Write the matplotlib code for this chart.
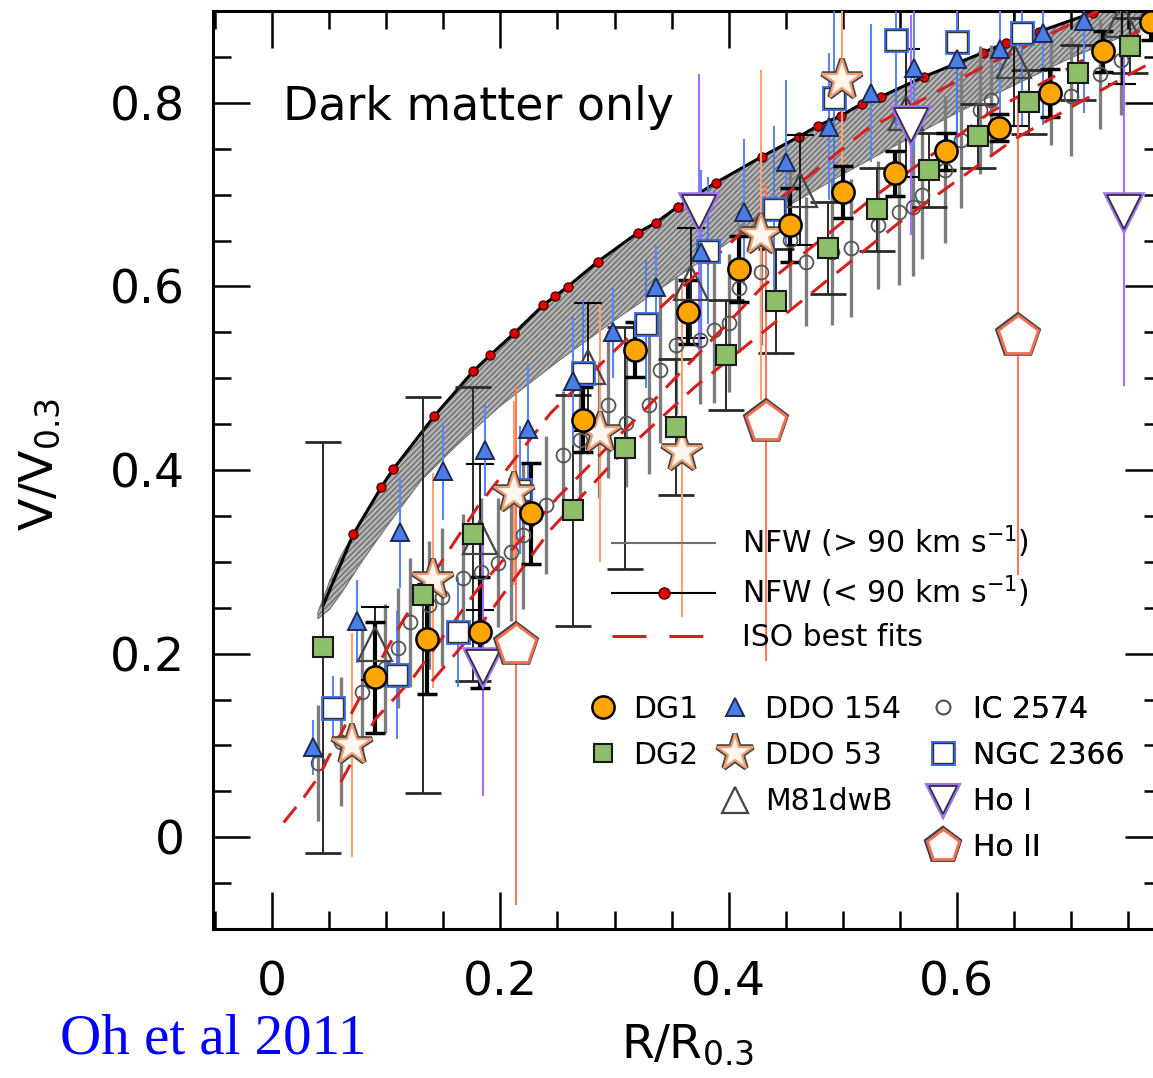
import matplotlib.pyplot as plt
from matplotlib.lines import Line2D
from matplotlib.ticker import MultipleLocator, FuncFormatter

plt.rcParams['font.family'] = ['DejaVu Sans']
plt.rcParams['mathtext.default'] = 'regular'

# NFW (< 90 km/s) model curve, red dots on the model points
nfw_x = [0.0447, 0.0711, 0.0956, 0.1061, 0.1421, 0.1763, 0.1912, 0.2123, 0.2377, 0.2482,
         0.2588, 0.2851, 0.3202, 0.3360, 0.3553, 0.3886, 0.4289, 0.4614, 0.4781, 0.4982,
         0.5167, 0.5333, 0.5711, 0.6228, 0.6430, 0.6719, 0.7193]
nfw_y = [0.2529, 0.3302, 0.3815, 0.4011, 0.4589, 0.5079, 0.5253, 0.5493, 0.5798, 0.5896,
         0.5995, 0.6267, 0.6583, 0.6692, 0.6866, 0.7128, 0.7411, 0.7629, 0.7749, 0.7858,
         0.7989, 0.8065, 0.8283, 0.8545, 0.8654, 0.8774, 0.8981]

# grey band of NFW (> 90 km/s) curves
band_x = [0.040, 0.050, 0.060, 0.080, 0.100, 0.130, 0.160, 0.200, 0.250, 0.300,
          0.350, 0.400, 0.450, 0.500, 0.550, 0.600, 0.650, 0.700, 0.780]
band_hi = [0.245, 0.278, 0.306, 0.350, 0.390, 0.440, 0.485, 0.535, 0.591, 0.640,
           0.682, 0.721, 0.755, 0.787, 0.816, 0.843, 0.868, 0.890, 0.925]
band_lo = [0.238, 0.248, 0.265, 0.303, 0.338, 0.388, 0.425, 0.470, 0.518, 0.563,
           0.606, 0.648, 0.686, 0.722, 0.756, 0.789, 0.819, 0.849, 0.890]

# ISO best fits
iso1_x = [0.010, 0.028, 0.040, 0.080, 0.115, 0.180, 0.244, 0.300, 0.360, 0.434, 0.520, 0.620, 0.720, 0.780]
iso1_y = [0.016, 0.044, 0.065, 0.160, 0.237, 0.360, 0.462, 0.530, 0.600, 0.684, 0.770, 0.837, 0.898, 0.930]
iso2_x = [0.060, 0.090, 0.123, 0.180, 0.250, 0.330, 0.430, 0.530, 0.630, 0.730, 0.780]
iso2_y = [0.060, 0.128, 0.173, 0.270, 0.370, 0.470, 0.600, 0.700, 0.790, 0.860, 0.890]
iso3_x = [0.140, 0.186, 0.244, 0.300, 0.370, 0.450, 0.550, 0.650, 0.750, 0.780]
iso3_y = [0.170, 0.237, 0.335, 0.410, 0.490, 0.570, 0.670, 0.760, 0.830, 0.850]

# galaxies
dg1_x = [0.090, 0.136, 0.182, 0.227, 0.272, 0.318, 0.364, 0.409, 0.454, 0.500, 0.546, 0.591, 0.637, 0.682, 0.728, 0.770]
dg1_y = [0.174, 0.216, 0.223, 0.353, 0.455, 0.531, 0.572, 0.619, 0.667, 0.703, 0.723, 0.747, 0.773, 0.811, 0.856, 0.888]
dg1_e = [0.060, 0.060, 0.060, 0.055, 0.035, 0.030, 0.035, 0.036, 0.040, 0.028, 0.024, 0.020, 0.015, 0.026, 0.022, 0.020]

dg2_x = [0.044, 0.1325, 0.1763, 0.264, 0.3096, 0.3535, 0.3974, 0.4412, 0.4868, 0.5298, 0.5754, 0.6184, 0.6632, 0.7061, 0.7518]
dg2_y = [0.207, 0.264, 0.330, 0.356, 0.424, 0.447, 0.525, 0.584, 0.642, 0.684, 0.727, 0.764, 0.801, 0.833, 0.862]
dg2_e = [0.224, 0.216, 0.160, 0.126, 0.132, 0.074, 0.060, 0.057, 0.050, 0.045, 0.040, 0.035, 0.035, 0.030, 0.030]

ddo154_x = [0.036, 0.0746, 0.1123, 0.150, 0.1868, 0.2246, 0.2632, 0.2991, 0.336, 0.3754, 0.4132, 0.450,
            0.4877, 0.5246, 0.5623, 0.600, 0.6377, 0.6754, 0.7114]
ddo154_y = [0.098, 0.235, 0.332, 0.399, 0.422, 0.445, 0.497, 0.550, 0.599, 0.637, 0.681, 0.735,
            0.774, 0.811, 0.838, 0.848, 0.859, 0.876, 0.889]
ddo154_e = [0.030, 0.045, 0.060, 0.053, 0.050, 0.070, 0.070, 0.050, 0.045, 0.090, 0.080, 0.090,
            0.080, 0.075, 0.090, 0.100, 0.100, 0.100, 0.100]

ddo53_x = [0.0702, 0.1412, 0.2123, 0.2877, 0.3588, 0.4281, 0.4991]
ddo53_y = [0.100, 0.280, 0.375, 0.440, 0.420, 0.656, 0.825]
ddo53_e = [0.122, 0.117, 0.100, 0.140, 0.180, 0.180, 0.150]

m81_x = [0.0904, 0.1825, 0.2772, 0.3675, 0.4623, 0.5553, 0.650, 0.7447]
m81_y = [0.211, 0.327, 0.512, 0.604, 0.705, 0.789, 0.845, 0.890]
m81_e = [0.040, 0.080, 0.070, 0.060, 0.060, 0.070, 0.070, 0.070]

ic_x = [0.040, 0.060, 0.079, 0.099, 0.110, 0.121, 0.137, 0.149, 0.167, 0.183, 0.198, 0.209, 0.220, 0.240,
        0.255, 0.270, 0.286, 0.294, 0.310, 0.330, 0.340, 0.354, 0.375, 0.387, 0.400, 0.409, 0.428, 0.454,
        0.468, 0.491, 0.507, 0.531, 0.549, 0.562, 0.570, 0.590, 0.604, 0.620, 0.630, 0.683, 0.700, 0.726, 0.744]
ic_y = [0.081, 0.104, 0.158, 0.184, 0.206, 0.234, 0.253, 0.262, 0.282, 0.289, 0.299, 0.311, 0.329, 0.362,
        0.416, 0.433, 0.444, 0.471, 0.451, 0.471, 0.509, 0.536, 0.542, 0.553, 0.560, 0.598, 0.616, 0.651,
        0.627, 0.638, 0.642, 0.667, 0.681, 0.686, 0.700, 0.727, 0.760, 0.792, 0.803, 0.814, 0.807, 0.831, 0.847]
ic_e = [0.063, 0.070, 0.070, 0.070, 0.065, 0.070, 0.070, 0.075, 0.070, 0.080, 0.070, 0.075, 0.080, 0.075,
        0.070, 0.080, 0.075, 0.080, 0.070, 0.075, 0.080, 0.075, 0.070, 0.080, 0.075, 0.070, 0.080, 0.075,
        0.070, 0.080, 0.075, 0.070, 0.080, 0.075, 0.070, 0.080, 0.075, 0.070, 0.060, 0.060, 0.065, 0.060, 0.060]

ngc_x = [0.0535, 0.1096, 0.1632, 0.2175, 0.2728, 0.3272, 0.3816, 0.4395, 0.4921, 0.5465, 0.600, 0.657]
ngc_y = [0.1406, 0.1766, 0.2235, 0.3782, 0.5057, 0.5591, 0.6387, 0.6845, 0.8054, 0.8687, 0.8665, 0.8763]
ngc_e = [0.035, 0.070, 0.060, 0.070, 0.080, 0.070, 0.080, 0.090, 0.100, 0.100, 0.100, 0.100]

hoi_x = [0.185, 0.3737, 0.5596, 0.7465]
hoi_y = [0.185, 0.681, 0.776, 0.681]
hoi_e = [0.140, 0.150, 0.120, 0.190]

hoii_x = [0.214, 0.433, 0.654]
hoii_y = [0.209, 0.452, 0.546]
hoii_e = [0.283, 0.260, 0.260]

fig = plt.figure(figsize=(11.53, 10.78), dpi=100)
ax = fig.add_axes([213 / 1153, 149 / 1078, 949 / 1153, 918 / 1078])
ax.set_xlim(-0.052, 0.78)
ax.set_ylim(-0.1, 0.9)

# model curves
ax.fill_between(band_x, band_lo, band_hi, facecolor='#b4b4b4', edgecolor='#6e6e6e',
                hatch='//////', linewidth=0.8, zorder=1)
ax.plot(nfw_x, nfw_y, color='black', lw=2.2, zorder=2)
ax.plot(nfw_x[1:], nfw_y[1:], ls='none', marker='o', ms=6.5, mfc='#e00000', mec='#550000', mew=1, zorder=2)
iso_dash = (0, (6.5, 4))
for xs, ys in [(iso1_x, iso1_y), (iso2_x, iso2_y), (iso3_x, iso3_y)]:
    ax.plot(xs, ys, color='#d42020', lw=2.2, ls=iso_dash, zorder=6)

# error bars
ax.errorbar(ic_x, ic_y, yerr=ic_e, fmt='none', ecolor='#7d7d7d', elinewidth=2.4, zorder=3)
ax.errorbar(dg2_x, dg2_y, yerr=dg2_e, fmt='none', ecolor='#2a2a2a', elinewidth=1.4,
            capsize=13, capthick=2, zorder=3)
ax.errorbar(m81_x, m81_y, yerr=m81_e, fmt='none', ecolor='black', elinewidth=1.2,
            capsize=10, capthick=1.5, zorder=3)
ax.errorbar(ddo154_x, ddo154_y, yerr=ddo154_e, fmt='none', ecolor='#5a86f0', elinewidth=1.5, zorder=3)
ax.errorbar(ngc_x, ngc_y, yerr=ngc_e, fmt='none', ecolor='#4a7af0', elinewidth=1.3, zorder=3)
ax.errorbar(ddo53_x, ddo53_y, yerr=ddo53_e, fmt='none', ecolor='#ffa070', elinewidth=1.5, zorder=3)
ax.errorbar(hoi_x, hoi_y, yerr=hoi_e, fmt='none', ecolor='#a070ff', elinewidth=1.5, zorder=3)
ax.errorbar(hoii_x, hoii_y, yerr=hoii_e, fmt='none', ecolor='#ff7a5a', elinewidth=1.5, zorder=3)
ax.errorbar(dg1_x, dg1_y, yerr=dg1_e, fmt='none', ecolor='black', elinewidth=3,
            capsize=7, capthick=2.5, zorder=4)

# markers; double outlines are drawn as two layers
styles = {
    'DG1': [dict(marker='o', ms=16, mfc='#ffa500', mec='black', mew=1.8)],
    'DG2': [dict(marker='s', ms=14, mfc='#8dbf6b', mec='#1a1a1a', mew=1.5)],
    'DDO 154': [dict(marker='^', ms=13, mfc='#4a7ee6', mec='#1c2a55', mew=1.4)],
    'DDO 53': [dict(marker='*', ms=30, mfc='white', mec='#444444', mew=4),
               dict(marker='*', ms=30, mfc='#fff6f0', mec='#f0a070', mew=1.6)],
    'M81dwB': [dict(marker='^', ms=24, mfc='none', mec='#444444', mew=1.6)],
    'IC 2574': [dict(marker='o', ms=10, mfc='none', mec='#555555', mew=1.3)],
    'NGC 2366': [dict(marker='s', ms=14, mfc='white', mec='#3b6ff0', mew=3.5),
                 dict(marker='s', ms=14, mfc='white', mec='#333333', mew=1.0)],
    'Ho I': [dict(marker='v', ms=24, mfc='white', mec='#a070ff', mew=4),
             dict(marker='v', ms=24, mfc='white', mec='#333333', mew=1.3)],
    'Ho II': [dict(marker='p', ms=30, mfc='white', mec='#444444', mew=4),
              dict(marker='p', ms=30, mfc='white', mec='#f07050', mew=2)],
}
# legend keys are drawn a little smaller than the points
key_size = {'DDO 53': 27, 'M81dwB': 19, 'Ho I': 20, 'Ho II': 24, 'NGC 2366': 15, 'DG2': 13}

series = [
    ('IC 2574', ic_x, ic_y, 5),
    ('M81dwB', m81_x, m81_y, 5),
    ('NGC 2366', ngc_x, ngc_y, 7),
    ('DDO 154', ddo154_x, ddo154_y, 7),
    ('Ho I', hoi_x, hoi_y, 7),
    ('Ho II', hoii_x, hoii_y, 7),
    ('DDO 53', ddo53_x, ddo53_y, 8),
    ('DG2', dg2_x, dg2_y, 8),
    ('DG1', dg1_x, dg1_y, 9),
]
for name, xs, ys, z in series:
    for st in styles[name]:
        ax.plot(xs, ys, ls='none', zorder=z, **st)

# axes and ticks
ax.xaxis.set_major_locator(MultipleLocator(0.2))
ax.xaxis.set_minor_locator(MultipleLocator(0.05))
ax.yaxis.set_major_locator(MultipleLocator(0.2))
ax.yaxis.set_minor_locator(MultipleLocator(0.05))
fmt = FuncFormatter(lambda v, p: '0' if abs(v) < 1e-9 else f'{v:.1f}')
ax.xaxis.set_major_formatter(fmt)
ax.yaxis.set_major_formatter(fmt)
ax.tick_params(which='both', direction='in', top=True, right=True, width=1.8, labelsize=34)
ax.tick_params(which='major', length=26.5)
ax.tick_params(which='minor', length=13)
ax.tick_params(axis='x', pad=23)
ax.tick_params(axis='y', pad=20)
for sp in ax.spines.values():
    sp.set_linewidth(2.2)

ax.text(0.0096, 0.795, 'Dark matter only', fontsize=33, va='center', ha='left')

# legends
lfs = 21.5
model_handles = [
    Line2D([], [], color='#707070', lw=1.5),
    Line2D([], [], color='black', lw=1.5, marker='o', ms=8, mfc='#e00000', mec='#550000'),
    Line2D([], [], color='#d42020', lw=2.2, ls=(0, (11.1, 7.5))),
]
model_labels = [r'NFW (> 90 km s$^{-1}$)', r'NFW (< 90 km s$^{-1}$)', 'ISO best fits']
leg = ax.legend(model_handles, model_labels, loc='upper left', bbox_to_anchor=(0.4204, 0.442),
                frameon=False, fontsize=lfs, borderpad=0, borderaxespad=0, handlelength=3.46,
                handletextpad=0.88, labelspacing=0.45, numpoints=1)
ax.add_artist(leg)

columns = [
    (0.3952, ['DG1', 'DG2']),
    (0.5342, ['DDO 154', 'DDO 53', 'M81dwB']),
    (0.7534, ['IC 2574', 'NGC 2366', 'Ho I', 'Ho II']),
]
for xpos, names in columns:
    hs = []
    for n in names:
        layers = []
        for st in styles[n]:
            st = dict(st)
            st['ms'] = key_size.get(n, st['ms'])
            layers.append(Line2D([], [], ls='none', **st))
        hs.append(tuple(layers) if len(layers) > 1 else layers[0])
    lg = ax.legend(hs, names, loc='upper left', bbox_to_anchor=(xpos, 0.255), frameon=False,
                   fontsize=lfs, borderpad=0, borderaxespad=0, handlelength=1.0,
                   handletextpad=0.5, labelspacing=0.57, numpoints=1)
    ax.add_artist(lg)

fig.text(40 / 1153, 1 - 465 / 1078, r'V/V$_{0.3}$', fontsize=34, rotation=90, ha='center', va='center')
fig.text(688 / 1153, 1 - 1045 / 1078, r'R/R$_{0.3}$', fontsize=34, ha='center', va='center')
fig.text(60 / 1153, 1 - 1053 / 1078, 'Oh et al 2011', fontsize=41, color='#0000ff',
         family='Liberation Serif', ha='left', va='baseline')

fig.savefig('out.png', dpi=100)
